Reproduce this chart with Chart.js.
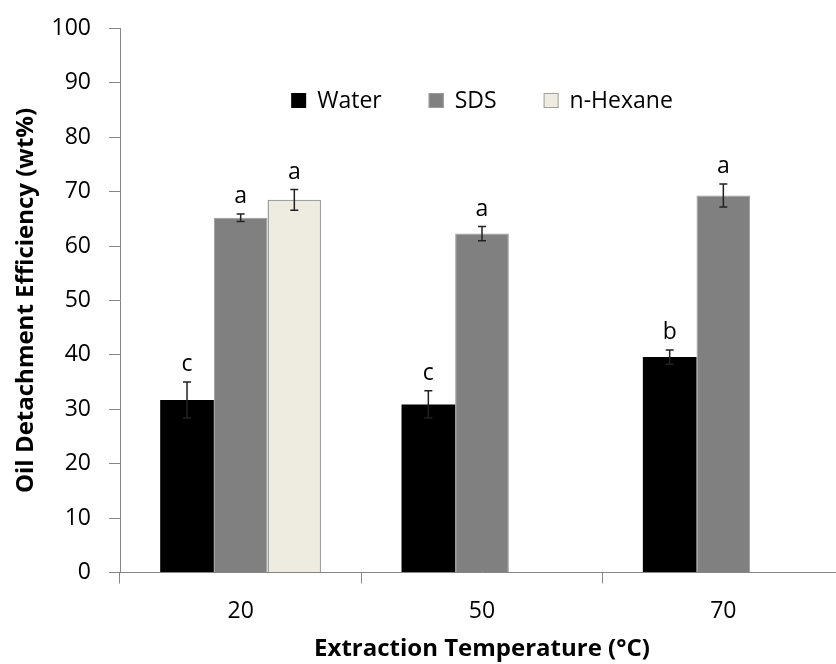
<!DOCTYPE html>
<html>
<head>
<meta charset="utf-8">
<script src="https://cdn.jsdelivr.net/npm/chart.js@4"></script>
<style>
  html, body { margin: 0; padding: 0; background: #fff; overflow: hidden; }
  #wrap { width: 880px; height: 664px; }
</style>
</head>
<body>
<div id="wrap"><canvas id="c" width="880" height="664"></canvas></div>
<script>
const categories = ['20', '50', '70'];
const seriesNames = ['Water', 'SDS', 'n-Hexane'];
const waterValues = [31.7, 30.9, 39.6];
const waterErrors = [3.3, 2.5, 1.3];
const waterLetters = ['c', 'c', 'b'];
const sdsValues = [65.2, 62.3, 69.3];
const sdsErrors = [0.7, 1.3, 2.1];
const sdsLetters = ['a', 'a', 'a'];
const hexaneValues = [68.5, null, null];
const hexaneErrors = [1.9, null, null];
const hexaneLetters = ['a', null, null];
const yTicks = [0, 10, 20, 30, 40, 50, 60, 70, 80, 90, 100];

const FONT = '"Open Sans", Lato, "DejaVu Sans", sans-serif';
const AXIS = '#868686';

const errorPlugin = {
  id: 'errorBars',
  afterDatasetsDraw(chart) {
    const ctx = chart.ctx;
    const y = chart.scales.y;
    chart.data.datasets.forEach((ds, di) => {
      const meta = chart.getDatasetMeta(di);
      meta.data.forEach((el, i) => {
        const v = ds.data[i];
        if (v === null || v === undefined) return;
        const e = ds.errors[i] || 0;
        const top = y.getPixelForValue(v + e);
        const bot = y.getPixelForValue(v - e);
        ctx.save();
        ctx.strokeStyle = '#222';
        ctx.lineWidth = 1.5;
        ctx.beginPath();
        ctx.moveTo(el.x, top); ctx.lineTo(el.x, bot);
        ctx.moveTo(el.x - 4, top); ctx.lineTo(el.x + 4, top);
        ctx.moveTo(el.x - 4, bot); ctx.lineTo(el.x + 4, bot);
        ctx.stroke();
        const L = ds.letters[i];
        if (L) {
          ctx.fillStyle = '#000';
          ctx.font = '23px ' + FONT;
          ctx.textAlign = 'center';
          ctx.textBaseline = 'alphabetic';
          ctx.fillText(L, el.x, top - 11);
        }
        ctx.restore();
      });
    });
  }
};

const legendPlugin = {
  id: 'innerLegend',
  afterDraw(chart) {
    const ctx = chart.ctx;
    const ca = chart.chartArea;
    ctx.save();
    ctx.font = '23px ' + FONT;
    const box = 15, gapText = 11, gapItem = 47;
    const items = chart.data.datasets.map(ds => ({
      label: ds.label, fill: ds.backgroundColor, border: ds.borderColor,
      w: box + gapText + ctx.measureText(ds.label).width
    }));
    const total = items.reduce((s, it) => s + it.w, 0) + gapItem * (items.length - 1);
    let x = (ca.left + ca.right) / 2 - total / 2;
    const cy = ca.top + 72;
    items.forEach(it => {
      ctx.fillStyle = it.fill;
      ctx.fillRect(x, cy - box / 2, box, box);
      if (it.border && it.border !== it.fill) {
        ctx.strokeStyle = it.border; ctx.lineWidth = 1;
        ctx.strokeRect(x + 0.5, cy - box / 2 + 0.5, box - 1, box - 1);
      }
      ctx.fillStyle = '#000';
      ctx.textAlign = 'left';
      ctx.textBaseline = 'middle';
      ctx.fillText(it.label, x + box + gapText, cy + 1);
      x += it.w + gapItem;
    });
    ctx.restore();
  }
};

new Chart(document.getElementById('c'), {
  type: 'bar',
  data: {
    labels: categories,
    datasets: [
      { label: seriesNames[0], data: waterValues, errors: waterErrors, letters: waterLetters,
        backgroundColor: '#000000', borderColor: '#000000', borderWidth: 0 },
      { label: seriesNames[1], data: sdsValues, errors: sdsErrors, letters: sdsLetters,
        backgroundColor: '#808080', borderColor: '#9a9a9a', borderWidth: 1 },
      { label: seriesNames[2], data: hexaneValues, errors: hexaneErrors, letters: hexaneLetters,
        backgroundColor: '#EEECE1', borderColor: '#a0a0a0', borderWidth: 1.5 }
    ]
  },
  options: {
    responsive: false,
    animation: false,
    devicePixelRatio: 1,
    layout: { padding: { left: 0, top: 28.5, right: 36, bottom: 0 } },
    datasets: { bar: { categoryPercentage: 0.667, barPercentage: 1 } },
    plugins: { legend: { display: false }, tooltip: { enabled: false } },
    scales: {
      x: {
        grid: { display: true, drawOnChartArea: false, drawTicks: true, tickLength: 11, color: AXIS, offset: true },
        border: { color: AXIS, width: 1 },
        ticks: { color: '#000', font: { family: FONT, size: 23 }, padding: 14, maxRotation: 0 },
        title: { display: true, text: 'Extraction Temperature (\u00B0C)', color: '#000',
                 font: { family: FONT, size: 24, weight: 'bold' }, padding: { top: 0, bottom: 0 } },
        afterFit(s) { s.height = 91.5; s.paddingLeft = 0; s.paddingRight = 0; }
      },
      y: {
        min: 0, max: 100,
        afterBuildTicks(s) { s.ticks = yTicks.map(v => ({ value: v })); },
        grid: { display: true, drawOnChartArea: false, drawTicks: true, tickLength: 11, color: AXIS },
        border: { color: AXIS, width: 1 },
        ticks: { color: '#000', font: { family: FONT, size: 23 }, padding: 18 },
        title: { display: true, text: 'Oil Detachment Efficiency (wt%)', color: '#000',
                 font: { family: FONT, size: 24, weight: 'bold' }, padding: { top: 12, bottom: 0 } },
        afterFit(s) { s.width = 120; s.paddingTop = 0; s.paddingBottom = 0; }
      }
    }
  },
  plugins: [errorPlugin, legendPlugin]
});
</script>
</body>
</html>
